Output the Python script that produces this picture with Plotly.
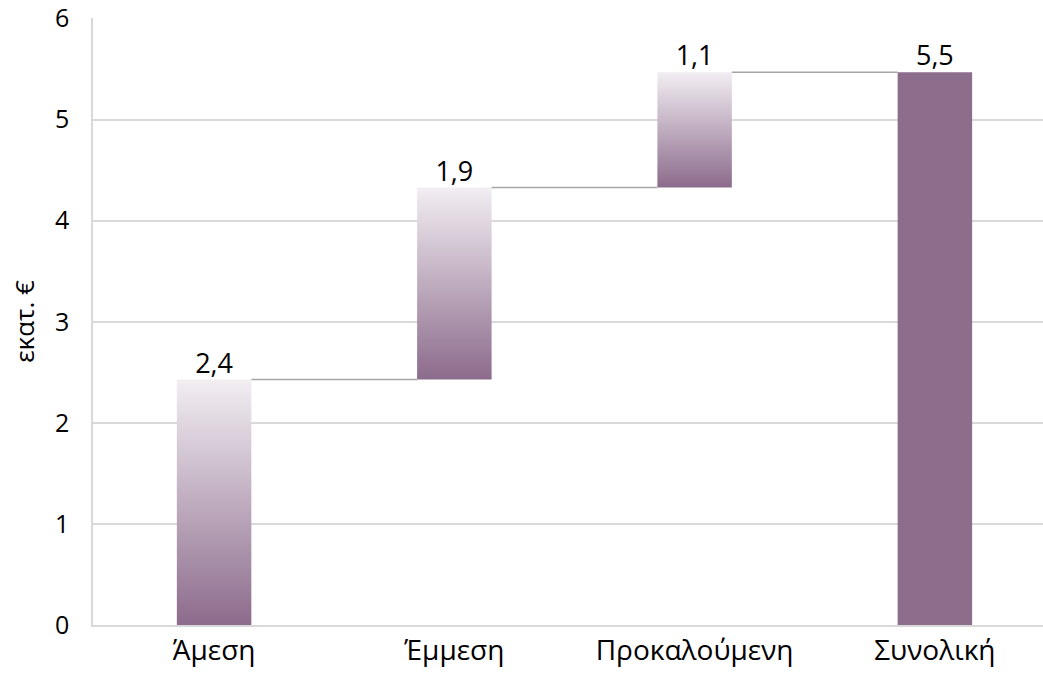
import plotly.graph_objects as go

categories = ["Άμεση", "Έμμεση", "Προκαλούμενη", "Συνολική"]
increments = [2.43, 1.9, 1.14]
total = 5.47
label_text = ["2,4", "1,9", "1,1", "5,5"]
y_ticks = [0, 1, 2, 3, 4, 5, 6]

BAR_W = 0.31
DARK = "rgb(140,107,140)"
LIGHT = "rgb(242,238,242)"
TOTAL_COLOR = "#8c6d8c"

fig = go.Figure()

cum = 0.0
tops = []
for i, v in enumerate(increments):
    b, t = cum, cum + v
    fig.add_trace(go.Scatter(
        x=[i - BAR_W / 2, i + BAR_W / 2, i + BAR_W / 2, i - BAR_W / 2, i - BAR_W / 2],
        y=[b, b, t, t, b],
        mode="lines", line=dict(width=0, color="rgba(0,0,0,0)"),
        fill="toself",
        fillgradient=dict(type="vertical", colorscale=[[0, DARK], [1, LIGHT]]),
        hoverinfo="skip", showlegend=False,
    ))
    cum = t
    tops.append(cum)

fig.add_trace(go.Bar(
    x=[3], y=[total], width=BAR_W,
    marker=dict(color=TOTAL_COLOR, line=dict(width=0)),
    showlegend=False,
))

# connectors
for i, lvl in enumerate(tops):
    fig.add_trace(go.Scatter(
        x=[i + BAR_W / 2, i + 1 - BAR_W / 2], y=[lvl, lvl],
        mode="lines", line=dict(color="#a6a6a6", width=1.5),
        hoverinfo="skip", showlegend=False,
    ))

# value labels
fig.add_trace(go.Scatter(
    x=[0, 1, 2, 3], y=tops + [total], text=label_text,
    mode="text", textposition="top center",
    textfont=dict(size=27, color="#000000", family="Open Sans"),
    showlegend=False, hoverinfo="skip",
))

fig.update_layout(
    width=1043, height=677,
    margin=dict(l=93, r=0, t=18, b=52),
    plot_bgcolor="white", paper_bgcolor="white",
    font=dict(family="Open Sans", size=28, color="#000000"),
)
fig.update_xaxes(
    range=[-0.504, 3.45], tickvals=[0, 1, 2, 3], ticktext=categories,
    showgrid=False, zeroline=False, showline=True, linecolor="#d9d9d9", linewidth=1.5,
    ticks="", tickfont=dict(size=28), automargin=False, ticklabeloverflow="allow",
)
fig.update_yaxes(
    range=[0, 6.006], tickvals=y_ticks, showgrid=True, gridcolor="#d9d9d9", gridwidth=1.5,
    zeroline=False, showline=True, linecolor="#d9d9d9", linewidth=1.5,
    ticks="", tickfont=dict(size=25), ticklabelstandoff=17, automargin=False,
    ticklabeloverflow="allow",
    title=dict(text="εκατ. €", font=dict(size=26), standoff=13),
)

fig.write_html("out.html", post_script="document.body.style.margin='0px';",
               config={"displayModeBar": False})
